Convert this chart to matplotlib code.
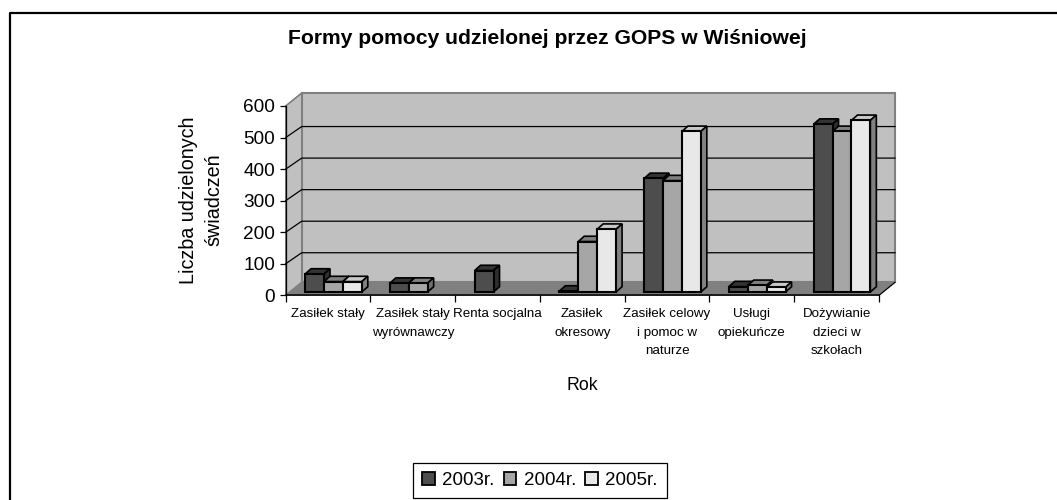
import matplotlib
matplotlib.use("Agg")
import matplotlib.pyplot as plt
from matplotlib.patches import Rectangle
import numpy as np

plt.rcParams["font.family"] = ["Liberation Sans", "DejaVu Sans"]

categories = ["Zasiłek stały", "Zasiłek stały\nwyrównawczy", "Renta socjalna",
              "Zasiłek\nokresowy", "Zasiłek celowy\ni pomoc w\nnaturze",
              "Usługi\nopiekuńcze", "Dożywianie\ndzieci w\nszkołach"]
years = ["2003r.", "2004r.", "2005r."]
v2003 = [57, 28, 68, 3, 360, 17, 532]
v2004 = [33, 28, 0, 160, 353, 21, 509]
v2005 = [33, 0, 0, 199, 509, 15, 544]
yticks = [0, 100, 200, 300, 400, 500, 600]

front = ["#4d4d4d", "#a6a6a6", "#e8e8e8"]
top = ["#333333", "#7f7f7f", "#c8c8c8"]
side = ["#2e2e2e", "#707070", "#808080"]

fig = plt.figure(figsize=(10.57, 5), dpi=100)
# chart frame: only left and top edges are in the picture
fig.add_artist(plt.Line2D([9.5/1057, 9.5/1057, 1], [0, 487.5/500, 487.5/500], color="black", lw=1.6))

ax = fig.add_axes([285.7/1057, 204.7/500, 593.3/1057, 189.3/500])
ax.set_xlim(0, 7)
ax.set_ylim(0, 600)
for s in ["top", "right"]:
    ax.spines[s].set_visible(False)
ax.patch.set_visible(False)

# depth of the fake 3d box, in data units per pixel
px = 7 / 593.3
py = 600 / 189.3
wall_dx = 16 * px
wall_dy = 13 * py
grid_dy = 11 * py

ax.fill([0, wall_dx, wall_dx, 0], [0, wall_dy, 600 + wall_dy, 600], fc="#c0c0c0", ec="#808080", lw=1, zorder=0, clip_on=False)
ax.fill([wall_dx, 7 + wall_dx, 7 + wall_dx, wall_dx], [wall_dy, wall_dy, 600 + wall_dy, 600 + wall_dy],
        fc="#c0c0c0", ec="#808080", lw=1.5, zorder=0, clip_on=False)
ax.fill([0, 7, 7 + wall_dx, wall_dx], [0, 0, wall_dy, wall_dy], fc="#808080", ec="#808080", zorder=1, clip_on=False)
ax.plot([7, 7 + wall_dx], [0, wall_dy], color="black", lw=0.8, zorder=1, clip_on=False)
for t in yticks[1:-1]:
    ax.plot([0, wall_dx, 7 + wall_dx], [t, t + grid_dy, t + grid_dy], color="black", lw=0.9, zorder=1, clip_on=False)
ax.plot([0, wall_dx], [600, 600 + wall_dy], color="#808080", lw=1, zorder=1, clip_on=False)

bw = 18.9 * px
off = 19.4 * px
base = 3.3 * py
ddx = 6 * px
ddy = 5.3 * py

z = 3
series = [v2003, v2004, v2005]
for c in range(len(categories)):
    for i, vals in enumerate(series):
        v = vals[c]
        if v == 0:
            continue
        x0 = c + off + i * bw
        x1 = x0 + bw
        y0 = base
        y1 = base + v
        ax.fill([x0, x1, x1 + ddx, x0 + ddx], [y1, y1, y1 + ddy, y1 + ddy], fc=top[i], ec="black", lw=1.2, zorder=z, clip_on=False)
        ax.fill([x1, x1 + ddx, x1 + ddx, x1], [y0, y0 + ddy, y1 + ddy, y1], fc=side[i], ec="black", lw=1.2, zorder=z, clip_on=False)
        ax.bar(x0, v, bottom=y0, width=bw, align="edge", color=front[i], ec="black", lw=1.5, zorder=z + 1, clip_on=False)
        z += 2

handles = [Rectangle((0, 0), 1, 1, fc=front[i], ec="black", lw=1.3) for i in range(3)]

ax.set_yticks(yticks)
ax.set_yticklabels([str(t) for t in yticks], fontsize=13.7)
ax.tick_params(axis="y", length=4, width=0.9, pad=3.5)
ax.set_xticks(np.arange(8))
ax.set_xticklabels([])
ax.tick_params(axis="x", which="major", length=5, width=0.9)
ax.set_xticks(np.arange(7) + 0.5, minor=True)
ax.set_xticklabels(categories, minor=True, fontsize=9.6, linespacing=1.75)
ax.tick_params(axis="x", which="minor", length=0, pad=9)
ax.spines["left"].set_linewidth(0.9)
ax.spines["bottom"].set_linewidth(1.1)

fig.text(547.5/1057, 1 - 38/500, "Formy pomocy udzielonej przez GOPS w Wiśniowej",
         ha="center", va="center", fontsize=15.2, fontweight="bold")
fig.text(201/1057, 1 - 200/500, "Liczba udzielonych\nświadczeń", rotation=90,
         ha="center", va="center", fontsize=14.2, multialignment="center", linespacing=1.42)
fig.text(582/1057, 1 - 385/500, "Rok", ha="center", va="center", fontsize=12.8)

leg = fig.legend(handles, years, ncol=3, loc="center", bbox_to_anchor=(540/1057, 1 - 480.5/500),
                 fontsize=13.5, frameon=True, fancybox=False, edgecolor="black", framealpha=1,
                 handlelength=0.65, handleheight=0.65, handletextpad=0.4, columnspacing=0.5,
                 borderpad=0.5, borderaxespad=0)
leg.get_frame().set_linewidth(0.9)

fig.savefig("out.png", dpi=100)
